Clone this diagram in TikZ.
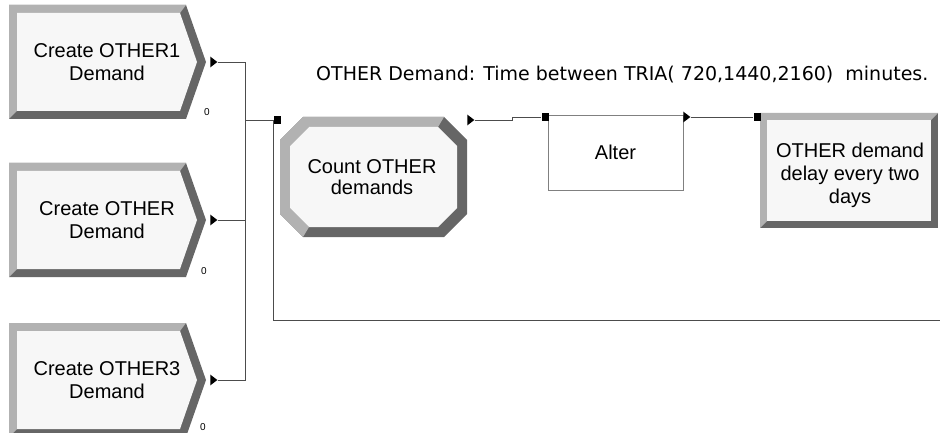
\documentclass[tikz,border=0pt]{standalone}
\usepackage{fontspec}
\setmainfont{Liberation Sans}
\newfontfamily\notefont{DejaVu Sans}
\usepackage{tikz}
\usetikzlibrary{positioning, arrows, shapes, calc}
\usetikzlibrary{shapes.geometric}

\definecolor{bevlight}{gray}{0.70}
\definecolor{bevdark}{gray}{0.40}
\definecolor{bevface}{gray}{0.97}
\definecolor{wire}{gray}{0.30}

\tikzstyle{blocktext} = [align=center, inner sep=0pt, font=\fontsize{20}{23}\selectfont]
\tikzstyle{plainbox} = [rectangle, draw=black!50, line width=0.8pt, fill=white, minimum width=135pt, minimum height=75pt, font=\fontsize{20}{23}\selectfont]
\tikzstyle{outport} = [isosceles triangle, isosceles triangle apex angle=75, fill=black, inner sep=0pt, minimum height=7pt]
\tikzstyle{inport} = [rectangle, fill=black, inner sep=0pt, minimum width=7pt, minimum height=8pt]
\tikzstyle{link} = [draw=wire, line width=0.9pt]
\tikzstyle{zerolabel} = [inner sep=0pt, font=\fontsize{10}{10}\selectfont]

% bevelled module outlines, top left corner given
\newcommand{\createshape}[2]{%
  \begin{scope}[shift={(#1,#2)}]
    \fill[bevdark] (0,0) -- (177,0) -- (197,57) -- (177,114) -- (0,114) -- cycle;
    \fill[bevlight] (0,114) -- (0,0) -- (177,0) -- (171,8) -- (8,8) -- (8,106) -- cycle;
    \fill[bevface] (8,8) -- (171,8) -- (188,57) -- (171,106) -- (8,106) -- cycle;
  \end{scope}}
\newcommand{\countshape}[2]{%
  \begin{scope}[shift={(#1,#2)}]
    \fill[bevdark] (23,0) -- (164,0) -- (187,23) -- (187,97) -- (164,120) -- (23,120) -- (0,97) -- (0,23) -- cycle;
    \fill[bevlight] (23,120) -- (0,97) -- (0,23) -- (23,0) -- (164,0) -- (158,10) -- (29,10) -- (10,29) -- (10,91) -- (29,110) -- cycle;
    \fill[bevface] (29,10) -- (158,10) -- (177,29) -- (177,91) -- (158,110) -- (29,110) -- (10,91) -- (10,29) -- cycle;
  \end{scope}}
\newcommand{\delayshape}[2]{%
  \begin{scope}[shift={(#1,#2)}]
    \fill[bevdark] (0,0) rectangle (178,115);
    \fill[bevlight] (0,115) -- (0,0) -- (178,0) -- (171,7) -- (7,7) -- (7,108) -- cycle;
    \fill[bevface] (7,7) rectangle (171,108);
  \end{scope}}

\begin{document}
\begin{tikzpicture}[x=1pt, y=-1pt]
        \useasboundingbox (0,0) rectangle (940,433);
        \createshape{9}{5}
        \createshape{9}{163}
        \createshape{9}{323}
        \countshape{280}{117}
        \delayshape{760}{113}

        \node (create1) [blocktext] at (107,62) {Create OTHER1\\Demand};
        \node (create2) [blocktext] at (107,220) {Create OTHER\\Demand};
        \node (create3) [blocktext] at (107,380) {Create OTHER3\\Demand};
        \node (count) [blocktext, font=\fontsize{20}{21}\selectfont] at (372,177) {Count OTHER\\demands};
        \node (alter) [plainbox] at (615.5,152.5) {Alter};
        \node (delay) [blocktext] at (850,175) {OTHER demand\\delay every two\\days};

        \node (out1) [outport] at (213,62) {};
        \node (out2) [outport] at (213,220) {};
        \node (out3) [outport] at (213,380) {};
        \node (countin) [inport] at (277,120) {};
        \node (countout) [outport] at (470,120) {};
        \node (alterin) [inport] at (545,117) {};
        \node (alterout) [outport] at (686,117) {};
        \node (delayin) [inport] at (757,117) {};

        \node (zero1) [zerolabel] at (207,112) {0};
        \node (zero2) [zerolabel] at (204,271) {0};
        \node (zero3) [zerolabel] at (203,427) {0};

        \node (timenote) [anchor=west, inner sep=0pt, font=\notefont\fontsize{19}{21}\selectfont] at (316,75) {OTHER Demand: Time between TRIA( 720,1440,2160)\ \ minutes.};

        \coordinate (merge) at (245,120);
        \coordinate (loopend) at (940,320);

        \draw [link] (out1) -| (merge) -- (countin);
        \draw [link] (out2) -- (out2 -| merge);
        \draw [link] (out3) -| (merge);
        \draw [link] (countin.west) |- (loopend);
        \draw [link] (countout.east) -- ++(38pt,0) |- (alterin);
        \draw [link] (alterout) -- (delayin);
\end{tikzpicture}
\end{document}
